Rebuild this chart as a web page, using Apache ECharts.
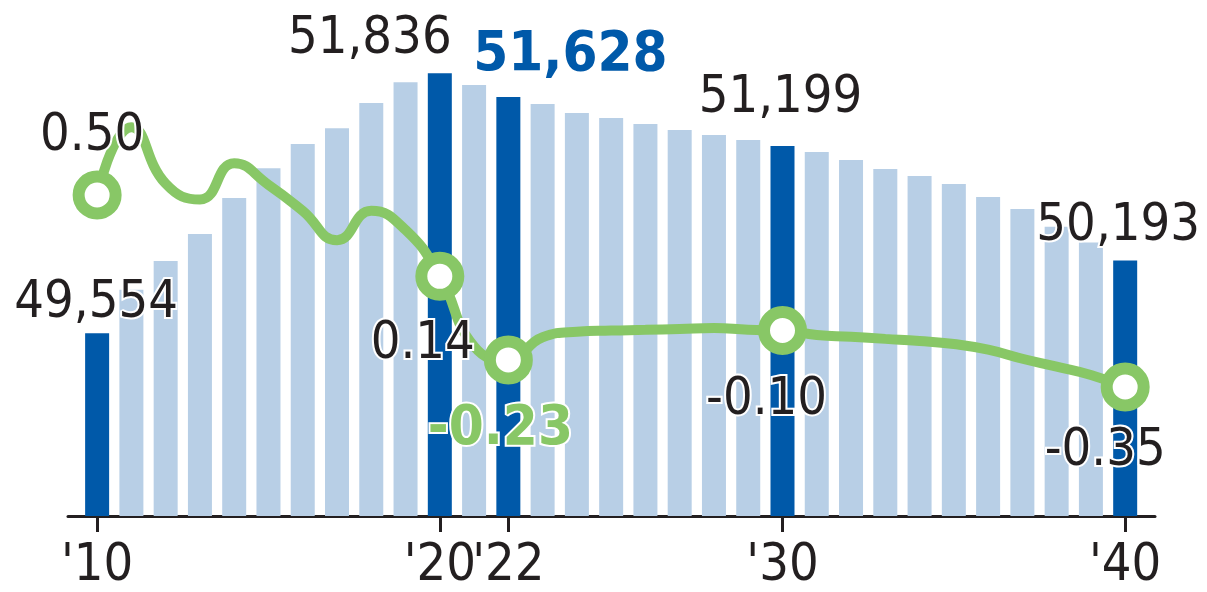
<!DOCTYPE html>
<html>
<head>
<meta charset="utf-8">
<script src="https://cdn.jsdelivr.net/npm/echarts@6/dist/echarts.min.js"></script>
<style>
  html, body { margin: 0; background: #fff; }
  #chart { width: 1207px; height: 592px; }
</style>
</head>
<body>
<div id="chart"></div>
<script>
// 총인구 (천 명) 과 인구성장률 (%), 2010 ~ 2040
var years = [2010, 2011, 2012, 2013, 2014, 2015, 2016, 2017, 2018, 2019,
             2020, 2021, 2022, 2023, 2024, 2025, 2026, 2027, 2028, 2029,
             2030, 2031, 2032, 2033, 2034, 2035, 2036, 2037, 2038, 2039, 2040]
var population = [49554, 49937, 50188, 50425, 50741, 51004, 51215, 51355, 51575, 51759,
                  51836, 51733, 51628, 51566, 51487, 51443, 51391, 51338, 51294, 51250,
                  51199, 51145, 51075, 50996, 50934, 50864, 50750, 50645, 50490, 50350, 50193]
var growth = [0.50, 0.80, 0.55, 0.48, 0.64, 0.545, 0.43, 0.30, 0.43, 0.345,
              0.14, -0.17, -0.23, -0.13, -0.105, -0.10, -0.097, -0.093, -0.089, -0.097,
              -0.10, -0.12, -0.128, -0.137, -0.146, -0.16, -0.185, -0.225, -0.26, -0.297, -0.35]
var tickYears = [2010, 2020, 2022, 2030, 2040]

var FONT = '"DejaVu Sans Condensed", "Liberation Sans Narrow", "DejaVu Sans", sans-serif'
var INK = '#231f20'
var DARK = '#0059a9'
var LIGHT = '#b8cfe6'
var GREEN = '#88c766'

// label placement for the highlighted years
var barLabelPos = {
  2010: [-1, -30], 2020: [-70, -34], 2022: [62, -42], 2030: [-2, -47], 2040: [-7, -34]
}
var lineLabelPos = {
  2010: [-5, -58], 2020: [-17, 68], 2022: [-8, 70], 2030: [-16, 70], 2040: [-20, 64]
}

function isKey(y) { return tickYears.indexOf(y) >= 0 }

var baseText = {
  fontFamily: FONT,
  fontSize: 52,
  color: INK,
  textBorderColor: '#fff',
  textBorderWidth: 4
}

var barData = years.map(function (y, i) {
  var item = { value: [y, population[i]], itemStyle: { color: isKey(y) ? DARK : LIGHT } }
  if (isKey(y)) {
    item.label = Object.assign({}, baseText, {
      show: true,
      position: 'top',
      distance: 0,
      verticalAlign: 'middle',
      offset: barLabelPos[y],
      formatter: function (p) { return p.value[1].toLocaleString('en-US') }
    })
    if (y === 2022) {
      item.label.color = DARK
      item.label.fontWeight = 'bold'
      item.label.fontSize = 56
    }
  }
  return item
})

var lineData = years.map(function (y, i) {
  var item = { value: [y, growth[i]] }
  if (isKey(y)) {
    item.symbol = 'circle'
    item.symbolSize = 37
    item.label = Object.assign({}, baseText, {
      show: true,
      position: 'inside',
      offset: lineLabelPos[y],
      formatter: function (p) { return p.value[1].toFixed(2) }
    })
    if (y === 2022) {
      item.label.color = GREEN
      item.label.fontWeight = 'bold'
      item.label.fontSize = 56
    }
  }
  return item
})

var chart = echarts.init(document.getElementById('chart'))
chart.setOption({
  animation: false,
  grid: { left: 68, right: 52, top: 0, bottom: 76 },
  xAxis: {
    type: 'value',
    min: 2009.15,
    max: 2040.87,
    splitLine: { show: false },
    axisLine: { show: true, onZero: false, lineStyle: { color: INK, width: 3 } },
    axisTick: { show: true, customValues: tickYears, length: 16, lineStyle: { color: INK, width: 3 } },
    axisLabel: {
      customValues: tickYears,
      margin: 24,
      fontFamily: FONT,
      fontSize: 52,
      color: INK,
      formatter: function (v) { return "'" + String(v).slice(2) }
    }
  },
  yAxis: [
    { type: 'value', min: 47950, max: 52480, show: false },
    { type: 'value', min: -0.921, max: 1.363, show: false }
  ],
  series: [
    {
      type: 'bar',
      barWidth: 24,
      data: barData
    },
    {
      type: 'line',
      yAxisIndex: 1,
      smooth: 0.5,
      symbol: 'none',
      showSymbol: true,
      clip: false,
      lineStyle: { color: GREEN, width: 10 },
      itemStyle: { color: '#fff', borderColor: GREEN, borderWidth: 12 },
      data: lineData,
      z: 3
    }
  ]
})
</script>
</body>
</html>
